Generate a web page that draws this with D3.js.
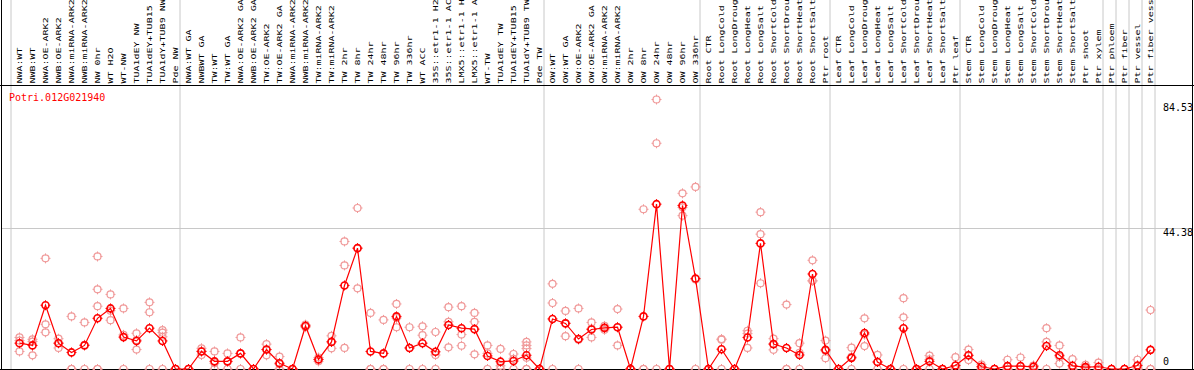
<!DOCTYPE html>
<html>
<head>
<meta charset="utf-8">
<script src="https://cdn.jsdelivr.net/npm/d3@7"></script>
<style>
  body { margin: 0; background: #fff; }
  svg { display: block; }
</style>
</head>
<body>
<svg id="chart" width="1194" height="370"></svg>
<script>
// Sample labels, in plotting order
var columns = [
    "NWA:WT", "NWB:WT", "NWA:OE-ARK2", "NWB:OE-ARK2", "NWA:miRNA-ARK2", "NWB:miRNA-ARK2", "NW 0hr", "WT H2O",
    "WT-NW", "TUA1dEY NW", "TUA1dEY+TUB15 NW", "TUA1dY+TUB9 NW", "Pde NW",
    "NWA:WT GA", "NWBWT GA", "TW:WT", "TW:WT GA", "NWA:OE-ARK2 GA", "NWB:OE-ARK2 GA", "TW:OE-ARK2", "TW:OE-ARK2 GA",
    "NWA:miRNA-ARK2 GA", "NWB:miRNA-ARK2 GA", "TW:miRNA-ARK2", "TW:miRNA-ARK2 GA", "TW 2hr", "TW 8hr", "TW 24hr",
    "TW 48hr", "TW 96hr", "TW 336hr", "WT ACC", "35S::etr1-1 H2O", "35S::etr1-1 ACC", "LMX5::etr1-1 H2O",
    "LMX5::etr1-1 ACC", "WT-TW", "TUA1dEY TW", "TUA1dEY+TUB15 TW", "TUA1dY+TUB9 TW", "Pde TW",
    "OW:WT", "OW:WT GA", "OW:OE-ARK2", "OW:OE-ARK2 GA", "OW:miRNA-ARK2", "OW:miRNA-ARK2 GA", "OW 2hr", "OW 8hr",
    "OW 24hr", "OW 48hr", "OW 96hr", "OW 336hr",
    "Root CTR", "Root LongCold", "Root LongDrought", "Root LongHeat", "Root LongSalt", "Root ShortCold",
    "Root ShortDrought", "Root ShortHeat", "Root ShortSalt", "Ptr root",
    "Leaf CTR", "Leaf LongCold", "Leaf LongDrought", "Leaf LongHeat", "Leaf LongSalt", "Leaf ShortCold",
    "Leaf ShortDrought", "Leaf ShortHeat", "Leaf ShortSalt", "Ptr leaf",
    "Stem CTR", "Stem LongCold", "Stem LongDrought", "Stem LongHeat", "Stem LongSalt", "Stem ShortCold",
    "Stem ShortDrought", "Stem ShortHeat", "Stem ShortSalt", "Ptr shoot", "Ptr xylem",
    "Ptr phloem", "Ptr fiber", "Ptr vessel", "Ptr fiber vessel"
];

// Number of columns in each experiment block (gray separators between them)
var groupSizes = [13, 28, 12, 10, 10, 11, 1, 1, 1, 1];

// Mean expression per column
var means = [
    8.1, 7.4, 20.0, 8.1, 5.2, 7.4, 15.9, 19.0, 10.0, 8.8, 12.8, 8.8, 0,
    0, 5.5, 2.4, 2.4, 4.9, 0, 6.1, 1.8, 0, 13.5, 3.0, 8.5, 26.2, 37.9, 5.5, 4.9, 16.5, 6.6, 8.1, 5.4, 13.8,
    12.8, 12.5, 4.1, 2.3, 2.5, 4.3, 0,
    15.7, 14.3, 9.4, 12.4, 12.9, 13.1, 0, 16.5, 51.7, 0, 51.3, 28.4,
    0, 6.2, 0, 9.9, 39.4, 7.8, 6.6, 4.4, 29.8, 6.0,
    0, 3.5, 11.3, 2.2, 0, 12.8, 0, 2.4, 0, 1.1,
    4.3, 0.7, 0, 0.9, 0.9, 0.7, 7.2, 4.3, 1.0, 0.6, 0.7,
    0, 0, 1.1, 6.0
];

// Individual replicates per column
var replicates = [
    [9.9, 8.9, 5.5], [9.3, 8.6, 4.3], [34.7, 14.0, 11.5], [9.5, 8.1, 6.6], [16.5, 0, 0], [14.6, 7.6, 0],
    [35.3, 25.0, 19.7, 0, 0], [23.4, 18.3, 15.3], [19.0, 10.7, 0], [11.2, 9.1, 6.1], [20.9, 17.8, 0],
    [12.2, 11.4, 10.1, 0], [0, 0, 0],
    [0, 0, 0], [6.5, 5.6, 4.4], [5.5, 1.8, 0], [4.9, 2.3, 0], [9.9, 4.8, 0], [0, 0, 0], [7.8, 6.1, 4.3],
    [3.9, 1.5, 0], [0, 0, 0], [13.9, 13.5, 13.1], [3.6, 3.0, 2.4], [10.4, 8.6, 6.5], [40.0, 32.5, 6.6],
    [50.5, 37.9, 25.3], [17.6, 0, 0], [15.4, 0, 0], [20.4, 16.0, 13.1], [13.1, 6.6, 0], [13.4, 10.6, 0],
    [11.6, 4.4, 0], [19.4, 14.8, 6.8], [19.7, 10.8, 7.3], [17.6, 14.8, 4.6], [7.4, 4.9, 0], [6.3, 1.0, 0],
    [4.7, 3.2, 0], [8.5, 7.4, 6.4, 3.5, 0, 0], [0, 0, 0],
    [26.7, 20.7, 0], [18.2, 14.4, 10.3], [19.0, 9.2, 0], [14.6, 12.7, 9.9], [13.5, 12.9, 12.3],
    [18.8, 13.1, 7.4], [0, 0, 0], [50.1, 0, 0], [84.53, 70.8, 0], [0, 0, 0], [55.1, 50.7, 48.1], [57.1, 28.1, 0],
    [0, 0, 0], [9.4, 9.2, 0], [0, 0, 0], [12.0, 11.1, 6.6], [49.2, 42.3, 26.9], [9.5, 7.9, 6.0], [20.2, 0, 0],
    [8.1, 5.1, 0], [34.1, 27.7, 27.6], [8.9, 5.7, 3.4],
    [0, 0, 0], [6.7, 3.8, 0], [15.9, 10.8, 7.2], [4.4, 2.2, 0], [0, 0, 0], [22.2, 16.2, 0], [0, 0, 0],
    [4.2, 3.0, 0], [0, 0, 0], [3.7, 0, 0],
    [6.1, 4.2, 2.8], [1.4, 0.7, 0], [0, 0, 0], [2.9, 0, 0], [3.6, 0, 0], [1.1, 1.0, 0], [12.8, 8.5, 0],
    [7.4, 3.8, 1.7], [3.1, 0, 0], [1.3, 0.5, 0], [2.0, 0, 0],
    [0, 0], [0, 0], [2.9, 0, 0], [18.5, 0, 0]
];

// Value axis ticks
var yTicks = [0, 44.38, 84.53];

var geneName = "Potri.012G021940";

var width = 1194, height = 370;
var svg = d3.select("#chart");
var font = "'DejaVu Sans Mono', 'Liberation Mono', monospace";

var x = d3.scaleBand()
    .domain(d3.range(columns.length))
    .range([11.5, 1155.5]);
var cx = function(i) { return x(i) + 8; };

var y = d3.scaleLinear()
    .domain([0, d3.max(yTicks)])
    .range([369, 99.5]);

// Group separators (left edge of each block, plus the right edge of the last one)
var edges = [0];
groupSizes.forEach(function(n) { edges.push(edges[edges.length - 1] + n); });
svg.append("g").selectAll("line")
    .data(edges)
    .enter().append("line")
    .attr("x1", function(d) { return d < columns.length ? x(d) - 0.5 : x(d - 1) + x.bandwidth() - 0.5; })
    .attr("x2", function(d) { return d < columns.length ? x(d) - 0.5 : x(d - 1) + x.bandwidth() - 0.5; })
    .attr("y1", 0)
    .attr("y2", 369)
    .style("stroke", "#c8c8c8")
    .style("stroke-width", 1);

// Horizontal grid line for the middle tick
svg.append("g").selectAll("line")
    .data(yTicks.filter(function(d) { return d > 0 && d < d3.max(yTicks); }))
    .enter().append("line")
    .attr("x1", 1)
    .attr("x2", 1192)
    .attr("y1", function(d) { return Math.round(y(d)) + 0.5; })
    .attr("y2", function(d) { return Math.round(y(d)) + 0.5; })
    .style("stroke", "#c8c8c8");

// Frame
var frame = svg.append("g").style("stroke", "#000").style("stroke-width", 1);
frame.append("line").attr("x1", 0).attr("x2", width).attr("y1", 85.5).attr("y2", 85.5);
frame.append("line").attr("x1", 0).attr("x2", width).attr("y1", 369.5).attr("y2", 369.5);
frame.append("line").attr("x1", 1.5).attr("x2", 1.5).attr("y1", 0).attr("y2", height);
frame.append("line").attr("x1", 1192.5).attr("x2", 1192.5).attr("y1", 0).attr("y2", height);

// Vertical sample labels
svg.append("g").selectAll("text")
    .data(columns)
    .enter().append("text")
    .attr("transform", function(d, i) { return "translate(" + (cx(i) + 2.7) + ",83.5) rotate(-90) scale(1,0.75)"; })
    .style("font-family", font)
    .style("font-size", "10px")
    .style("fill", "#000")
    .text(function(d) { return d; });

// Value labels at the right
svg.append("g").selectAll("text")
    .data(yTicks)
    .enter().append("text")
    .attr("x", 1163)
    .attr("y", function(d) { return Math.max(111, Math.min(365, y(d) + 8)); })
    .style("font-family", font)
    .style("font-size", "10px")
    .style("fill", "#000")
    .text(function(d) { return d; });

// Gene name
svg.append("text")
    .attr("x", 9)
    .attr("y", 101)
    .style("font-family", font)
    .style("font-size", "10px")
    .style("fill", "#ff0000")
    .text(geneName);

// Circle marker with small ticks at the four compass points
function marker(g, px, py, color, sw) {
    var r = 3.5;
    g.append("circle")
        .attr("cx", px).attr("cy", py).attr("r", r)
        .style("fill", "none").style("stroke", color).style("stroke-width", sw);
    g.append("path")
        .attr("d", "M" + px + "," + (py - r - 1.5) + "v2" +
                   "M" + px + "," + (py + r - 0.5) + "v2" +
                   "M" + (px - r - 1.5) + "," + py + "h2" +
                   "M" + (px + r - 0.5) + "," + py + "h2")
        .style("stroke", color).style("stroke-width", 1);
}

// Replicates
var reps = svg.append("g");
replicates.forEach(function(vals, i) {
    vals.forEach(function(v) { marker(reps, cx(i), y(v), "#f09a9a", 1.2); });
});

// Mean line
var line = d3.line()
    .x(function(d, i) { return cx(i); })
    .y(function(d) { return y(d); });
svg.append("path")
    .datum(means)
    .attr("d", line)
    .style("fill", "none")
    .style("stroke", "#ff0000")
    .style("stroke-width", 1.2);

// Means
var meanG = svg.append("g");
means.forEach(function(v, i) { marker(meanG, cx(i), y(v), "#ff0000", 1.6); });
</script>
</body>
</html>
